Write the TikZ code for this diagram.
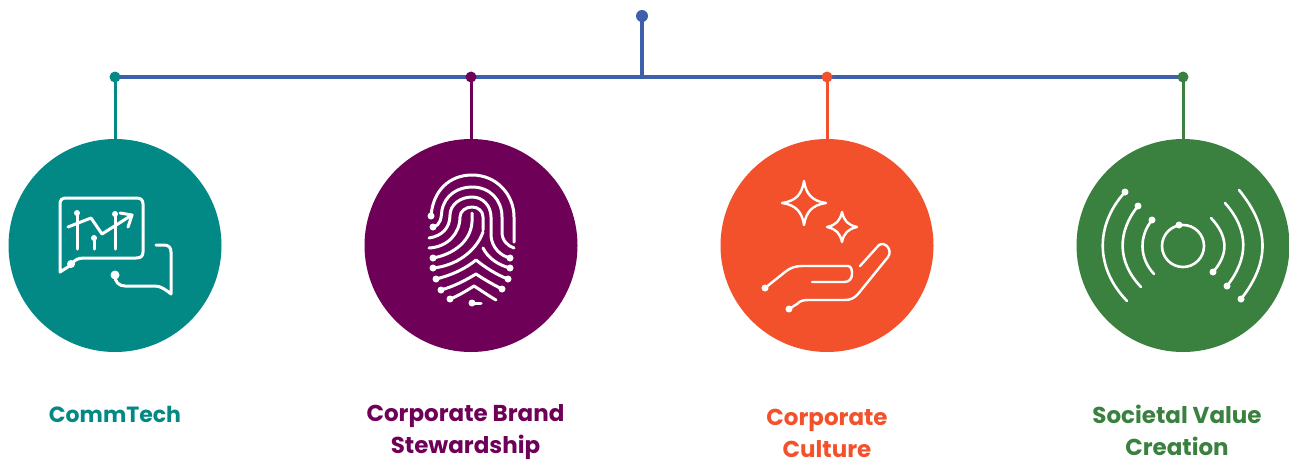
\documentclass[tikz,border=0pt]{standalone}
\usepackage{fontspec}
\setmainfont{Poppins}
\definecolor{cteal}{HTML}{038985}
\definecolor{cplum}{HTML}{6F0058}
\definecolor{corange}{HTML}{F3512B}
\definecolor{cgreen}{HTML}{3A8140}
\definecolor{cblue}{HTML}{3E5FAC}
\tikzset{
  disc/.style={circle,fill=#1,draw=none,minimum size=213pt,inner sep=0pt},
  knob/.style={circle,fill=#1,draw=none,minimum size=11pt,inner sep=0pt},
  label/.style={text=#1,font=\fontsize{23}{32}\selectfont\bfseries,align=center,inner sep=0pt},
  icon/.style={white,line width=3pt,line cap=round,line join=round},
  pin/.style={circle,fill=white,draw=none,minimum size=#1,inner sep=0pt},
  pin/.default=7pt,
}
\begin{document}
\begin{tikzpicture}[x=1pt,y=-1pt]
\useasboundingbox (0,0) rectangle (1289,459);
% connectors are drawn first, from centre to centre, so the knobs sit on them
\coordinate (hub) at (642,76);
\coordinate (c1) at (115,77);
\coordinate (c2) at (471,77);
\coordinate (c3) at (827,77);
\coordinate (c4) at (1183,77);
\coordinate (e1) at (115,245.5);
\coordinate (e2) at (471,245.5);
\coordinate (e3) at (827,245.5);
\coordinate (e4) at (1183,245.5);
\coordinate (c0) at (642,16);
\draw[cblue,line width=3.2pt] (c0) -- (hub);
\draw[cblue,line width=3.2pt] (c1) -- (c4);
\draw[cteal,line width=3pt] (c1) -- (e1);
\draw[cplum,line width=3pt] (c2) -- (e2);
\draw[corange,line width=3pt] (c3) -- (e3);
\draw[cgreen,line width=3pt] (c4) -- (e4);
% nodes
\node[knob=cblue,minimum size=12pt] (top) at (c0) {};
\node[knob=cteal] (k1) at (c1) {};
\node[knob=cplum] (k2) at (c2) {};
\node[knob=corange] (k3) at (c3) {};
\node[knob=cgreen] (k4) at (c4) {};
\node[disc=cteal] (d1) at (e1) {};
\node[disc=cplum] (d2) at (e2) {};
\node[disc=corange] (d3) at (e3) {};
\node[disc=cgreen] (d4) at (e4) {};
% labels
\node[label=cteal,font=\fontsize{22}{32}\selectfont\bfseries] (t1) at (115,414.5) {CommTech};
\node[label=cplum] (t2) at (465.5,432.5) {Corporate Brand\\Stewardship};
\node[label=corange] (t3) at (827,433.5) {Corporate\\Culture};
\node[label=cgreen] (t4) at (1177,430.5) {Societal Value\\Creation};
% CommTech icon
\draw[icon] (71,265) .. controls (74,260) and (78,258) .. (84,258) -- (136,258)
  .. controls (141,258) and (143,256) .. (143,252) -- (143,204)
  .. controls (143,200) and (141,198) .. (136,198) -- (66,198)
  .. controls (62,198) and (60,200) .. (60,204) -- (60,272) -- (71,265);
\draw[icon] (156,245) -- (164,245) .. controls (169,245) and (171,248) .. (171,252) -- (171,294)
  .. controls (166,290) and (161,286) .. (155,286) -- (125,286)
  .. controls (119,286) and (115,282) .. (115,276);
\draw[icon] (68,227) -- (91,218) -- (102,234) -- (132,215);
\draw[icon] (120,213) -- (132,215) -- (128,227);
\draw[icon] (77,213) -- (77,249);
\draw[icon] (94,238) -- (94,249);
\draw[icon] (115,214) -- (115,249);
\node[pin=8pt] at (71,264) {};
\node[pin=9pt] at (115,275) {};
\node[pin=6pt] at (77,213) {};
\node[pin=6pt] at (94,238) {};
\node[pin=6pt] at (115,214) {};
% fingerprint icon
\begin{scope}[icon]
\draw (431,216) .. controls (433,190) and (450,175) .. (472,175) .. controls (497,175) and (514,195) .. (514,217) -- (514,242);
\draw (433,227) .. controls (441,225) and (441,218) .. (442,210) .. controls (445,195) and (458,187) .. (472,187) .. controls (490,187) and (502,200) .. (502,217) -- (502,232) .. controls (502,241) and (508,246) .. (514,248);
\draw (429,238) .. controls (442,236) and (450,228) .. (450,215) .. controls (450,205) and (460,197) .. (472,197) .. controls (483,197) and (491,206) .. (491,217) -- (491,236) .. controls (492,248) and (501,256) .. (510,258);
\draw (429,248) .. controls (448,247) and (460,233) .. (460,217) .. controls (460,211) and (466,207) .. (472,207) .. controls (478,207) and (483,211) .. (483,217) -- (483,230);
\draw (472,213) -- (472,222) .. controls (471,240) and (455,254) .. (433,258);
\draw (433,268) .. controls (455,266) and (476,252) .. (483,232);
\draw (483,248) .. controls (488,258) and (498,265) .. (510,268);
\draw (436,279) .. controls (452,275) and (465,269) .. (476,260) .. controls (486,268) and (497,275) .. (508,279);
\draw (441,290) .. controls (455,286) and (466,280) .. (476,274) .. controls (485,280) and (494,285) .. (502,289);
\draw (450,299) .. controls (458,296) and (466,291) .. (474,286) .. controls (482,291) and (489,296) .. (496,300);
\draw (472,303) -- (481,303);
\end{scope}
\foreach \p in {(431,216),(433,227),(433,258),(433,268),(436,279),(441,290),(450,299),(472,303),(510,258),(510,268),(508,279),(502,289)}
  \node[pin=7pt] at \p {};
% hand icon
\begin{scope}[icon,line width=2.4pt]
\draw (804,181) .. controls (806,194) and (812,201) .. (826,203) .. controls (812,205) and (806,212) .. (804,225) .. controls (802,212) and (796,205) .. (782,203) .. controls (796,201) and (802,194) .. (804,181) -- cycle;
\draw (842,212) .. controls (844,221) and (848,225) .. (857,227) .. controls (848,229) and (844,233) .. (842,242) .. controls (840,233) and (836,229) .. (827,227) .. controls (836,225) and (840,221) .. (842,212) -- cycle;
\draw (765,288) -- (785,272) .. controls (790,268) and (795,266) .. (802,266) -- (848,266) .. controls (852,266) and (852,272) .. (852,274) .. controls (852,279) and (849,282) .. (844,282) -- (812,282);
\draw (789,309) -- (797,304) .. controls (800,301) and (803,300) .. (808,300) -- (845,300) .. controls (852,300) and (855,297) .. (858,294) -- (888,257) .. controls (893,250) and (885,241) .. (879,245) -- (860,266);
\end{scope}
\node[pin=7pt] at (765,288) {};
\node[pin=7pt] at (789,309) {};
% signal icon
\begin{scope}[icon,line width=2.6pt]
\draw (1183,246) circle[radius=21];
\draw (1125,192) .. controls (1095,225) and (1095,268) .. (1127,301);
\draw (1138,206) .. controls (1117,232) and (1117,262) .. (1141,287);
\draw (1152,220) .. controls (1139,236) and (1139,258) .. (1154,274);
\draw (1211,218) .. controls (1228,236) and (1229,254) .. (1213,272);
\draw (1225,203) .. controls (1249,230) and (1249,258) .. (1227,286);
\draw (1239,190) .. controls (1270,228) and (1270,262) .. (1241,299);
\end{scope}
\foreach \p in {(1179,225),(1125,192),(1138,206),(1152,220),(1213,272),(1227,286),(1241,299)}
  \node[pin=7pt] at \p {};
\end{tikzpicture}
\end{document}
